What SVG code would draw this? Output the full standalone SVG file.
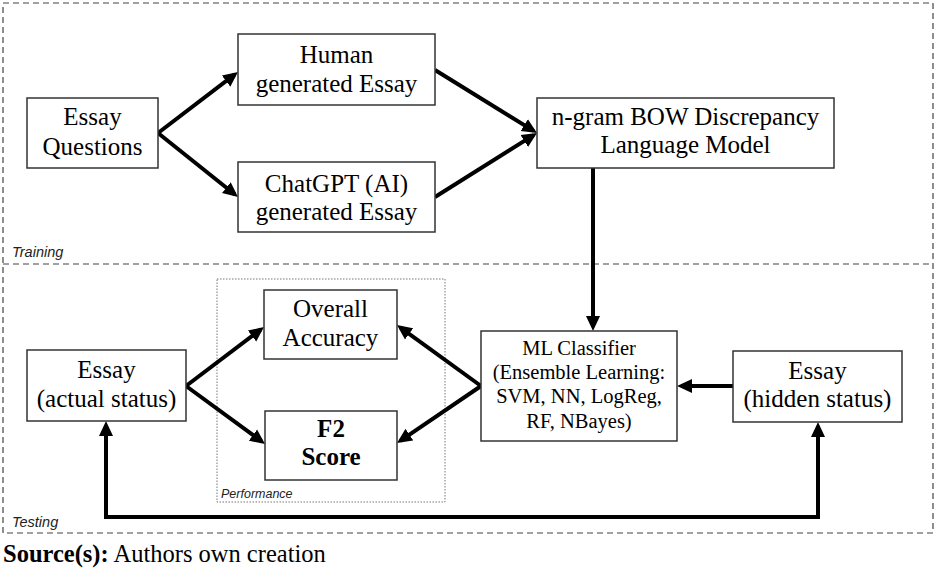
<svg xmlns="http://www.w3.org/2000/svg" width="936" height="572" viewBox="0 0 936 572">
<style>
.box{fill:#fff;stroke:#333;stroke-width:1.5}
.t{font-family:"Liberation Serif","Times New Roman",serif;font-size:25px;fill:#000;text-anchor:middle}
.ts{font-family:"Liberation Serif","Times New Roman",serif;font-size:20.5px;fill:#000;text-anchor:middle}
.lbl{font-family:"Liberation Sans",Arial,sans-serif;font-style:italic;fill:#222}
.frame{fill:none;stroke:#444;stroke-width:1.2;stroke-dasharray:6 4}
.perf{fill:none;stroke:#777;stroke-width:1;stroke-dasharray:1.5 1.5}
.c{fill:none;stroke:#000;stroke-width:4;marker-end:url(#ah)}
</style>
<defs>
<marker id="ah" markerUnits="userSpaceOnUse" markerWidth="15" markerHeight="15" refX="11" refY="7" orient="auto-start-reverse" viewBox="0 0 15 14">
<path d="M0,0 L15,7 L0,14 z" fill="#000"/>
</marker>
</defs>
<rect width="936" height="572" fill="#fff"/>
<g id="frames">
<rect class="frame" x="3" y="3" width="930" height="530"/>
<line class="frame" x1="3" y1="264" x2="933" y2="264"/>
<text class="lbl" x="12" y="257" font-size="14.5">Training</text>
<text class="lbl" x="12" y="527" font-size="14.5">Testing</text>
<rect class="perf" x="217" y="279" width="228" height="223"/>
<text class="lbl" x="221" y="498" font-size="12.5">Performance</text>
</g>
<g id="connectors">
<path class="c" d="M158,133 L234.8,74.4"/>
<path class="c" d="M158,133 L234.9,194.5"/>
<path class="c" d="M435,70 L533.6,130.9"/>
<path class="c" d="M435,197 L533.6,135.1"/>
<path class="c" d="M593,168 L593,327"/>
<path class="c" d="M733,386 L681,386"/>
<path class="c" d="M186,386 L260.8,329.4"/>
<path class="c" d="M186,386 L261.8,441.6"/>
<path class="c" d="M481,386 L400.2,327.4"/>
<path class="c" d="M481,386 L400.3,440.8"/>
<path class="c" style="marker-start:url(#ah)" d="M818,426 V517 H106 V425"/>
</g>
<g id="essay-questions">
<rect class="box" x="27" y="98" width="131" height="70"/>
<text class="t" x="92.5" y="125">Essay</text>
<text class="t" x="92.5" y="155">Questions</text>
</g>
<g id="human-essay">
<rect class="box" x="238" y="34" width="197" height="71"/>
<text class="t" x="336.5" y="63">Human</text>
<text class="t" x="336.5" y="92">generated Essay</text>
</g>
<g id="chatgpt-essay">
<rect class="box" x="238" y="162" width="197" height="70"/>
<text class="t" x="336.5" y="192">ChatGPT (AI)</text>
<text class="t" x="336.5" y="220">generated Essay</text>
</g>
<g id="ngram-model">
<rect class="box" x="537" y="98" width="297" height="70"/>
<text class="t" x="685.5" y="125">n-gram BOW Discrepancy</text>
<text class="t" x="685.5" y="153">Language Model</text>
</g>
<g id="ml-classifier">
<rect class="box" x="481" y="331" width="196" height="110"/>
<text class="ts" x="579" y="355">ML Classifier</text>
<text class="ts" x="579" y="379">(Ensemble Learning:</text>
<text class="ts" x="579" y="403">SVM, NN, LogReg,</text>
<text class="ts" x="579" y="428">RF, NBayes)</text>
</g>
<g id="essay-hidden">
<rect class="box" x="733" y="351" width="169" height="71"/>
<text class="t" x="817.5" y="379">Essay</text>
<text class="t" x="817.5" y="407">(hidden status)</text>
</g>
<g id="essay-actual">
<rect class="box" x="27" y="350" width="159" height="71"/>
<text class="t" x="106.5" y="378">Essay</text>
<text class="t" x="106.5" y="407">(actual status)</text>
</g>
<g id="overall-accuracy">
<rect class="box" x="264" y="290" width="133" height="69"/>
<text class="t" x="330.5" y="317">Overall</text>
<text class="t" x="330.5" y="346">Accuracy</text>
</g>
<g id="f2-score">
<rect class="box" x="265" y="411" width="132" height="69"/>
<text class="t" x="331" y="437" font-weight="bold">F2</text>
<text class="t" x="331" y="465" font-weight="bold">Score</text>
</g>
<text x="3" y="562" font-family="'Liberation Serif','Times New Roman',serif" font-size="24.5" fill="#000"><tspan font-weight="bold">Source(s):</tspan> Authors own creation</text>
</svg>
